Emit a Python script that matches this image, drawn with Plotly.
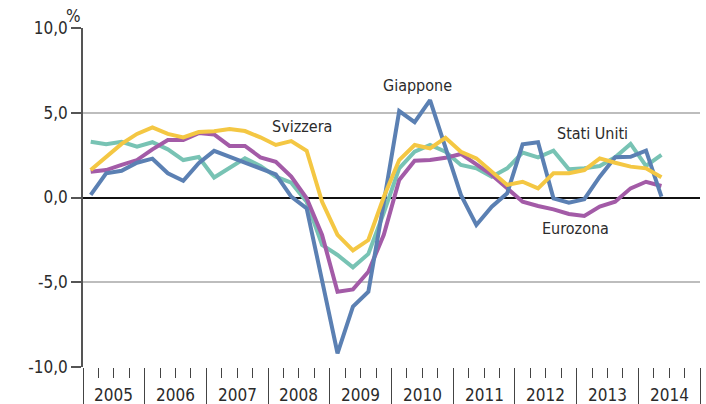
import numpy as np
import plotly.graph_objects as go

years = ["2005", "2006", "2007", "2008", "2009", "2010", "2011", "2012", "2013", "2014"]
quarters_per_year = 4

# Quarterly values (%), 2005 Q1 .. 2014 Q2
giappone = [0.15, 1.43, 1.58, 2.05, 2.29, 1.43, 0.99, 2.02, 2.75, 2.41, 2.08, 1.68, 1.37, 0.05, -0.64, -4.9,
            -9.19, -6.44, -5.56, -0.3, 5.1, 4.44, 5.75, 2.94, 0.15, -1.62, -0.54, 0.25, 3.14, 3.26, -0.05, -0.3,
            -0.1, 1.23, 2.37, 2.4, 2.76, 0.05]
eurozona = [1.52, 1.62, 1.92, 2.21, 2.84, 3.39, 3.39, 3.8, 3.72, 3.04, 3.04, 2.37, 2.11, 1.23, -0.05, -2.21,
            -5.56, -5.42, -4.38, -2.2, 1.03, 2.17, 2.21, 2.34, 2.57, 1.92, 1.33, 0.54, -0.25, -0.5, -0.7, -0.97,
            -1.09, -0.54, -0.25, 0.54, 0.93, 0.68]
stati_uniti = [3.29, 3.14, 3.29, 3.0, 3.26, 2.84, 2.21, 2.39, 1.18, 1.78, 2.31, 1.86, 1.23, 0.87, -0.25, -2.8,
               -3.39, -4.12, -3.33, -0.9, 1.72, 2.7, 3.1, 2.7, 1.92, 1.72, 1.23, 1.72, 2.65, 2.37, 2.76, 1.66,
               1.72, 1.86, 2.37, 3.16, 1.86, 2.51]
svizzera = [1.62, 2.41, 3.16, 3.75, 4.14, 3.75, 3.55, 3.86, 3.91, 4.04, 3.92, 3.55, 3.1, 3.33, 2.76, -0.25,
            -2.21, -3.12, -2.51, 0.03, 2.21, 3.1, 2.9, 3.52, 2.7, 2.31, 1.52, 0.74, 0.93, 0.54, 1.43, 1.43,
            1.62, 2.31, 2.05, 1.82, 1.72, 1.19]

y_tickvals = [-10, -5, 0, 5, 10]
y_ticktext = ["-10,0", "-5,0", "0,0", "5,0", "10,0"]

FONT = "Liberation Sans Narrow, DejaVu Sans Condensed, Arial Narrow, sans-serif"
TXT = "#2b2b2b"

n_q = len(years) * quarters_per_year
xq = np.arange(len(giappone)) + 0.5  # centre of each quarter

fig = go.Figure()

# invisible trace on secondary y axis to host gridlines (drawn first, below the data)
fig.add_trace(go.Scatter(x=[0], y=[0], yaxis="y2", mode="markers",
                         marker=dict(opacity=0), showlegend=False, hoverinfo="skip"))

series = [
    ("Stati Uniti", stati_uniti, "#78c3b4"),
    ("Eurozona", eurozona, "#a35ba7"),
    ("Giappone", giappone, "#5b80b3"),
    ("Svizzera", svizzera, "#f4c743"),
]
for name, vals, col in series:
    fig.add_trace(go.Scatter(x=xq, y=vals, mode="lines", name=name,
                             line=dict(color=col, width=4), showlegend=False))

ann = []
for i, yr in enumerate(years):
    ann.append(dict(x=i * quarters_per_year + quarters_per_year / 2, y=-0.083, xref="x", yref="paper",
                    text=yr, showarrow=False, yanchor="middle", xanchor="center",
                    font=dict(family=FONT, size=17, color=TXT)))
labels = [("Svizzera", 14.22, 4.18), ("Giappone", 21.7, 6.6), ("Stati Uniti", 33.05, 3.8), ("Eurozona", 31.9, -1.83)]
for t, x, y in labels:
    ann.append(dict(x=x, y=y, xref="x", yref="y", text=t, showarrow=False,
                    xanchor="center", yanchor="middle", font=dict(family=FONT, size=16, color=TXT)))
ann.append(dict(x=0.0, y=1.0, xref="paper", yref="paper", text="%", showarrow=False,
                xanchor="right", yanchor="bottom", font=dict(family=FONT, size=17, color=TXT)))

fig.update_layout(
    width=706, height=404,
    margin=dict(l=83, r=6, t=28, b=37, autoexpand=False),
    paper_bgcolor="white", plot_bgcolor="white",
    font=dict(family=FONT, size=17, color=TXT),
    xaxis=dict(range=[0, n_q], showgrid=False, zeroline=False, showline=False, automargin=False,
               tickmode="linear", tick0=0, dtick=quarters_per_year, ticks="outside", ticklen=37,
               tickcolor="#444", tickwidth=1, showticklabels=False,
               minor=dict(tickmode="linear", tick0=0, dtick=1, ticks="outside", ticklen=10,
                          tickcolor="#444", tickwidth=1)),
    yaxis=dict(range=[-10, 10], tickvals=y_tickvals, ticktext=y_ticktext, showgrid=False,
               automargin=False,
               zeroline=True, zerolinecolor="#111", zerolinewidth=1.5,
               showline=True, linecolor="#555", linewidth=1.5,
               ticks="outside", ticklen=10, tickcolor="#555", tickwidth=1.5,
               tickfont=dict(family=FONT, size=17, color=TXT)),
    yaxis2=dict(range=[-10, 10], overlaying="y", tickvals=[-5, 5, 10], showgrid=True, automargin=False,
                gridcolor="#bdbdbd", gridwidth=1.5, showticklabels=False, ticks="", zeroline=False,
                showline=False, side="left"),
    annotations=ann,
)

fig.write_html("out.html", config={"displayModeBar": False},
               post_script="document.body.style.margin='0px';document.body.style.padding='0px';")
